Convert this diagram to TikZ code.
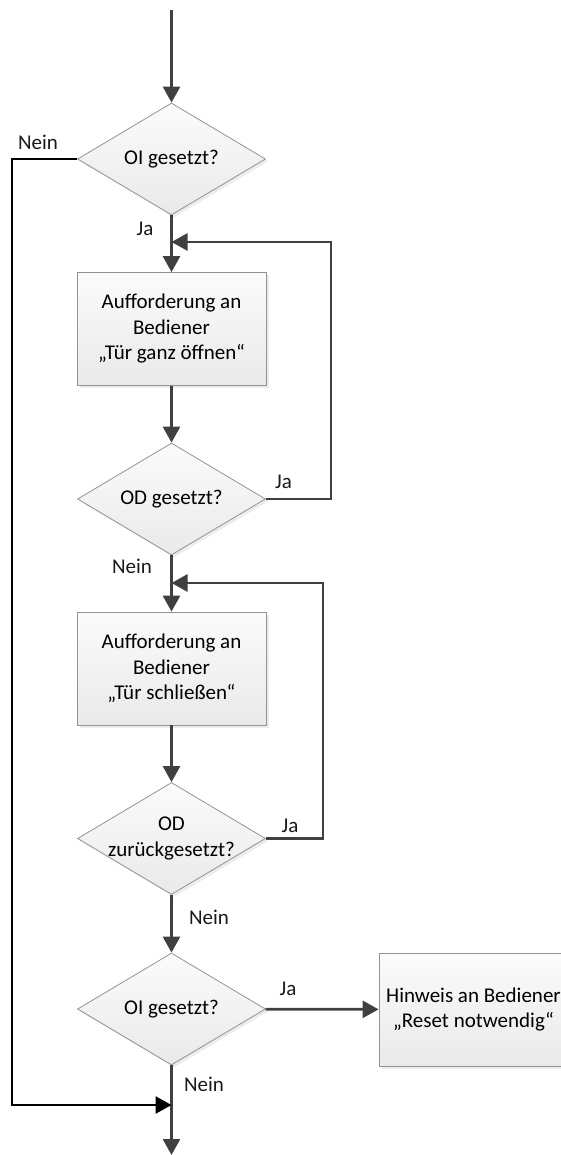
\documentclass[tikz,border=0pt]{standalone}
\usepackage{fontspec}
\setmainfont{Carlito}
\usetikzlibrary{shapes.geometric,arrows.meta,shadows}
\tikzset{
  procbox/.style={draw=gray!85, line width=0.8pt, top color=gray!3, bottom color=gray!17,
    minimum width=189pt, minimum height=113pt, inner sep=0pt, align=center,
    drop shadow={shadow xshift=2.5pt, shadow yshift=-2.5pt, fill=black!15}},
  dec/.style={procbox, diamond, aspect=1.68, minimum width=188pt, minimum height=112pt},
  flow/.style={draw=black!75, line width=2.7pt, -{Triangle[length=16pt,width=17pt]}},
  bypass/.style={flow, draw=black},
  lbl/.style={text=black!90, inner sep=0pt}
}
\begin{document}
\begin{tikzpicture}[x=1pt,y=-1pt, font=\fontsize{21}{25.5}\selectfont]
\useasboundingbox (0,0) rectangle (560,1155);
\coordinate (start) at (171.5,10);
\coordinate (ende) at (171.5,1155);
\node[dec] (d1) at (171.5,159) {OI gesetzt?};
\node[procbox] (b1) at (171.5,329) {Aufforderung an\\Bediener\\„Tür ganz öffnen“};
\node[dec] (d2) at (171.5,499) {OD gesetzt?};
\node[procbox] (b2) at (171.5,668.5) {Aufforderung an\\Bediener\\„Tür schließen“};
\node[dec] (d3) at (171.5,838.5) {};
\node[align=center, inner sep=0pt] (t3) at (d3) {OD\\zurückgesetzt?};
\node[dec] (d4) at (171.5,1009) {OI gesetzt?};
\node[procbox] (b3) at (473.5,1009.5) {Hinweis an Bediener\\„Reset notwendig“};
\coordinate (j1) at (171.5,242);
\coordinate (j2) at (171.5,583);
\coordinate (j3) at (171.5,1105);
% main column
\draw[flow] (start) -- (d1);
\draw[flow] (d1) -- (b1);
\draw[flow] (b1) -- (d2);
\draw[flow] (d2) -- (b2);
\draw[flow] (b2) -- (d3);
\draw[flow] (d3) -- (d4);
\draw[flow] (d4) -- (ende);
\draw[flow] (d4) -- (b3);
% loops back
\draw[flow] (d2.east) -- ++(65,0) |- (j1);
\draw[flow] (d3.east) -- ++(57,0) |- (j2);
\draw[bypass] (d1.west) -- ++(-65,0) |- (j3);
% labels
\draw (38,142) node[lbl] (n1) {Nein};
\draw (145,229) node[lbl] (y1) {Ja};
\draw (283.5,482) node[lbl] (y2) {Ja};
\draw (132,566) node[lbl] (n2) {Nein};
\draw (290,826) node[lbl] (y3) {Ja};
\draw (209,917) node[lbl] (n3) {Nein};
\draw (288,989) node[lbl] (y4) {Ja};
\draw (204,1084) node[lbl] (n4) {Nein};
\end{tikzpicture}
\end{document}
